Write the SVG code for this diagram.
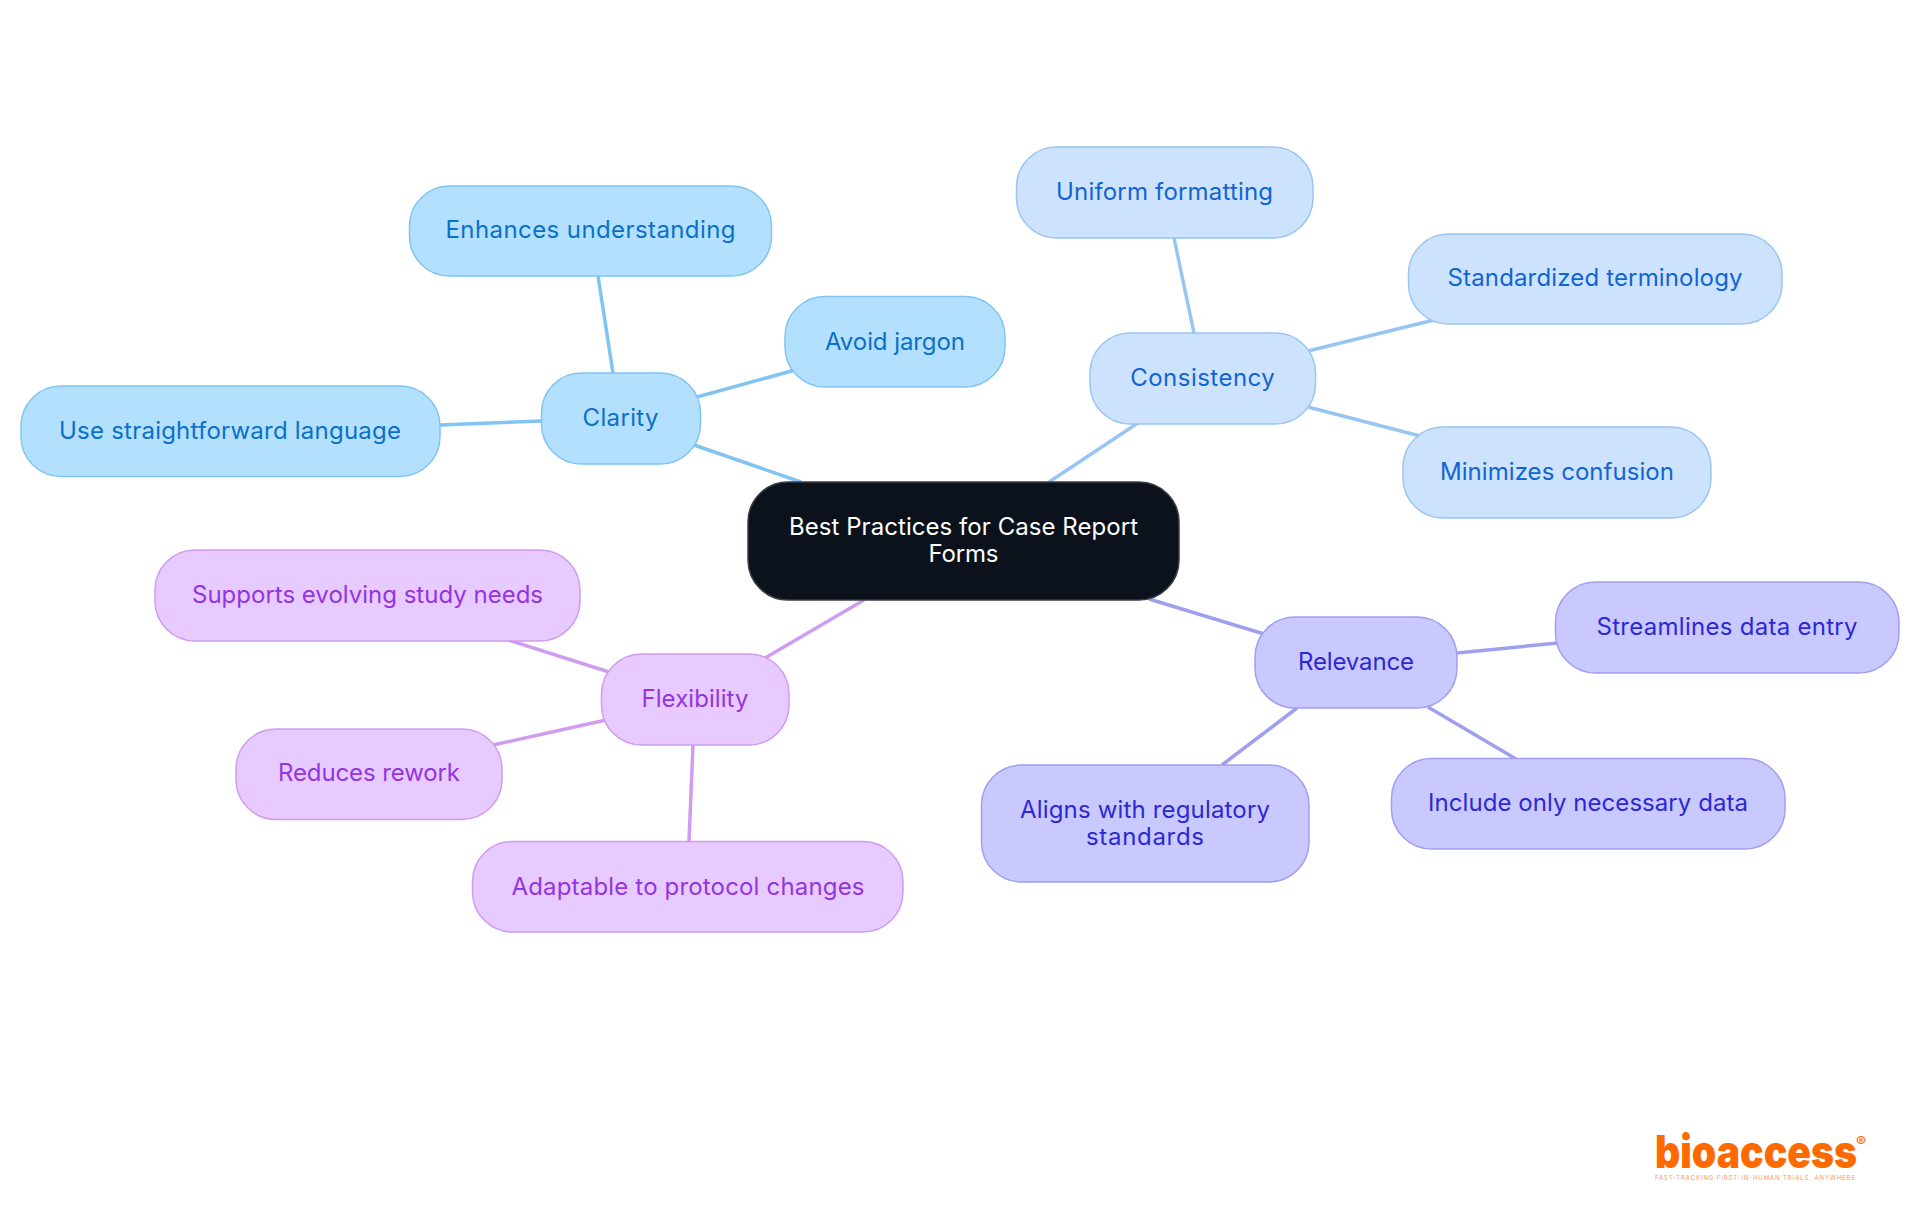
<svg xmlns="http://www.w3.org/2000/svg" width="1920" height="1215" viewBox="0 0 1920 1215">
<style>
text{font-family:"Inter","Noto Sans","Liberation Sans",sans-serif;font-size:24px;font-weight:400;text-anchor:middle}
.n{stroke-width:1.5}
.e{stroke-width:3.5;fill:none;stroke-linecap:butt}
.c rect{fill:#b3e0ff;stroke:#80c4f2}.c text{fill:#0a70c8}
.s rect{fill:#cde3fd;stroke:#99c5f2}.s text{fill:#1064d4}
.r rect{fill:#c9c9ff;stroke:#9f9ff0}.r text{fill:#2c28d4}
.f rect{fill:#e7caff;stroke:#cf9cf0}.f text{fill:#9434e0}
.m rect{fill:#0b121b;stroke:#3a3f46}.m text{fill:#ffffff}
text.logo{font-family:"Inter","Liberation Sans",sans-serif;font-weight:900;fill:#ff6a00;text-anchor:start}
</style>
<rect width="1920" height="1215" fill="#ffffff"/>
<g id="connectors">
<g class="e" stroke="#80c4f2">
<line x1="694" y1="445" x2="801" y2="482"/>
<line x1="613" y1="373" x2="598" y2="276"/>
<line x1="697" y1="397" x2="795" y2="370"/>
<line x1="541" y1="421" x2="440" y2="425"/>
</g>
<g class="e" stroke="#99c5f2">
<line x1="1049" y1="482" x2="1138" y2="423"/>
<line x1="1194" y1="333" x2="1174" y2="238"/>
<line x1="1308" y1="351" x2="1434" y2="320"/>
<line x1="1308" y1="407" x2="1420" y2="436"/>
</g>
<g class="e" stroke="#9f9ff0">
<line x1="1149" y1="599" x2="1264" y2="634"/>
<line x1="1457" y1="653" x2="1558" y2="643"/>
<line x1="1428" y1="707" x2="1516" y2="759"/>
<line x1="1297" y1="708" x2="1222" y2="765"/>
</g>
<g class="e" stroke="#cf9cf0">
<line x1="864" y1="600" x2="765" y2="658"/>
<line x1="609" y1="672" x2="508" y2="640"/>
<line x1="606" y1="720" x2="493" y2="745"/>
<line x1="693" y1="745" x2="689" y2="841"/>
</g>
</g>
<g id="center" class="m"><rect class="n" x="748" y="482" width="431" height="118" rx="40"/><text x="963.5" y="535" textLength="349">Best Practices for Case Report</text><text x="963.5" y="562" textLength="70">Forms</text></g>
<g id="clarity" class="c"><rect class="n" x="541.500" y="373" width="159" height="91" rx="40"/><text x="620.5" y="426" textLength="76">Clarity</text></g>
<g id="enhances" class="c"><rect class="n" x="409.500" y="186" width="362" height="90" rx="40"/><text x="590.500" y="238" textLength="290">Enhances understanding</text></g>
<g id="jargon" class="c"><rect class="n" x="785" y="296.500" width="220" height="90.500" rx="40"/><text x="895" y="350" textLength="140">Avoid jargon</text></g>
<g id="language" class="c"><rect class="n" x="21" y="386" width="419" height="90.500" rx="40"/><text x="230" y="439" textLength="342">Use straightforward language</text></g>
<g id="consistency" class="s"><rect class="n" x="1090" y="333" width="225.500" height="91" rx="40"/><text x="1202.5" y="386" textLength="144.500">Consistency</text></g>
<g id="uniform" class="s"><rect class="n" x="1016.500" y="147" width="296.500" height="91" rx="40"/><text x="1164.5" y="200" textLength="217">Uniform formatting</text></g>
<g id="terminology" class="s"><rect class="n" x="1408.500" y="234" width="373.500" height="90" rx="40"/><text x="1595" y="286" textLength="295">Standardized terminology</text></g>
<g id="confusion" class="s"><rect class="n" x="1403" y="427" width="308" height="91" rx="40"/><text x="1557" y="480" textLength="234">Minimizes confusion</text></g>
<g id="relevance" class="r"><rect class="n" x="1255" y="617" width="202" height="91" rx="40"/><text x="1356" y="670" textLength="116">Relevance</text></g>
<g id="streamlines" class="r"><rect class="n" x="1555.500" y="582" width="343.500" height="91" rx="40"/><text x="1727" y="635" textLength="261">Streamlines data entry</text></g>
<g id="include" class="r"><rect class="n" x="1391.500" y="758.500" width="393.500" height="90.500" rx="40"/><text x="1588" y="811" textLength="320">Include only necessary data</text></g>
<g id="aligns" class="r"><rect class="n" x="981.500" y="765" width="327.500" height="117" rx="40"/><text x="1145" y="818" textLength="250">Aligns with regulatory</text><text x="1145" y="845" textLength="118">standards</text></g>
<g id="flexibility" class="f"><rect class="n" x="601.500" y="654" width="187.500" height="91" rx="40"/><text x="695" y="707" textLength="107">Flexibility</text></g>
<g id="supports" class="f"><rect class="n" x="155" y="550" width="425" height="91" rx="40"/><text x="367.500" y="603" textLength="351">Supports evolving study needs</text></g>
<g id="reduces" class="f"><rect class="n" x="236" y="729" width="266" height="90.500" rx="40"/><text x="369" y="781" textLength="182">Reduces rework</text></g>
<g id="adaptable" class="f"><rect class="n" x="472.500" y="841.500" width="430.500" height="90.500" rx="40"/><text x="688" y="895" textLength="353">Adaptable to protocol changes</text></g>
<g id="logo">
<text class="logo" x="1655" y="1168" style="font-size:46px" textLength="202" lengthAdjust="spacingAndGlyphs">bioaccess</text>
<text class="logo" x="1856" y="1147" style="font-size:15px;font-weight:500">®</text>
<text class="logo" x="1655" y="1180" style="font-size:6px;font-weight:400;opacity:.7" textLength="200">FAST-TRACKING FIRST-IN-HUMAN TRIALS, ANYWHERE</text>
</g>
</svg>
